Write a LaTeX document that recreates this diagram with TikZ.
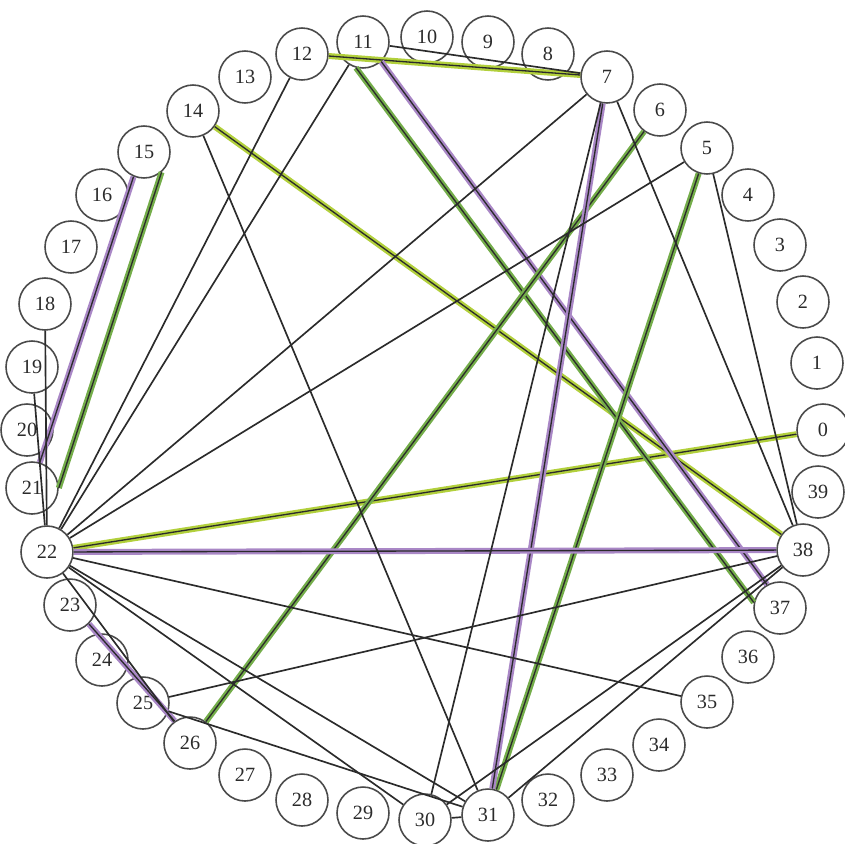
\documentclass[tikz,border=0pt]{standalone}
\usepackage{fontspec}
\setmainfont{Liberation Serif}
\usepackage{tikz}
\usetikzlibrary{arrows.meta, calc}
\definecolor{Ink}  {HTML}{2B2B2B}
\definecolor{Ring} {HTML}{4A4A4A}
\definecolor{Grn}  {HTML}{74AD4A}
\definecolor{YGrn} {HTML}{B2D03C}
\definecolor{Lilac}{HTML}{A987C6}
\tikzset{
  vtx/.style={
    circle, draw=Ring, line width=0.9pt,
    minimum size=1.04cm, inner sep=0pt,
    font=\fontsize{11.5}{13}\selectfont, text=Ink,
  },
  ln/.style={
    draw=Ink, line width=0.95pt,
  },
  % coloured band with a black line on top
  hl/.style={
    draw=Ink, line width=0.75pt,
    preaction={draw=#1, line width=3.4pt},
  },
}
\begin{document}
\begin{tikzpicture}[x=0.02cm,y=-0.02cm]
  \useasboundingbox (0,0) rectangle (845,843);
  % vertices, going round anticlockwise from the right
  \node[vtx] (v0)  at (823,430) {0};
  \node[vtx] (v1)  at (817,363) {1};
  \node[vtx] (v2)  at (803,302) {2};
  \node[vtx] (v3)  at (780,245) {3};
  \node[vtx] (v4)  at (748,195) {4};
  \node[vtx] (v5)  at (707,148) {5};
  \node[vtx] (v6)  at (660,110) {6};
  \node[vtx] (v7)  at (607,77)  {7};
  \node[vtx] (v8)  at (548,54)  {8};
  \node[vtx] (v9)  at (488,42)  {9};
  \node[vtx] (v10) at (427,37)  {10};
  \node[vtx] (v11) at (363,42)  {11};
  \node[vtx] (v12) at (302,54)  {12};
  \node[vtx] (v13) at (245,77)  {13};
  \node[vtx] (v14) at (193,111) {14};
  \node[vtx] (v15) at (144,152) {15};
  \node[vtx] (v16) at (102,195) {16};
  \node[vtx] (v17) at (71,247)  {17};
  \node[vtx] (v18) at (45,304)  {18};
  \node[vtx] (v19) at (32,367)  {19};
  \node[vtx] (v20) at (27,430)  {20};
  \node[vtx] (v21) at (32,488)  {21};
  \node[vtx] (v22) at (47,552)  {22};
  \node[vtx] (v23) at (70,605)  {23};
  \node[vtx] (v24) at (102,660) {24};
  \node[vtx] (v25) at (143,703) {25};
  \node[vtx] (v26) at (190,743) {26};
  \node[vtx] (v27) at (245,775) {27};
  \node[vtx] (v28) at (302,800) {28};
  \node[vtx] (v29) at (363,813) {29};
  \node[vtx] (v30) at (425,820) {30};
  \node[vtx] (v31) at (488,815) {31};
  \node[vtx] (v32) at (548,800) {32};
  \node[vtx] (v33) at (607,775) {33};
  \node[vtx] (v34) at (659,745) {34};
  \node[vtx] (v35) at (707,702) {35};
  \node[vtx] (v36) at (748,657) {36};
  \node[vtx] (v37) at (780,608) {37};
  \node[vtx] (v38) at (803,550) {38};
  \node[vtx] (v39) at (818,492) {39};
  % highlighted links
  \draw[hl=YGrn]  (v12) -- (v7);
  \draw[hl=YGrn]  (v22) -- (v0);
  \draw[hl=YGrn]  (v14) -- (v38);
  \draw[hl=Grn]   (v11.255) -- (v37.168);
  \draw[hl=Lilac] (v11.313) -- (v37.119);
  \draw[hl=Lilac] (v15.247) -- (v21.73);
  \draw[hl=Grn]   (v15.311) -- (v21.0);
  \draw[hl=Grn]   (v6) -- (v26);
  \draw[hl=Grn]   (v5) -- (v31);
  \draw[hl=Lilac] (v7) -- (v31);
  \draw[hl=Lilac] (v22) -- (v38);
  \draw[hl=Lilac] (v23.315) -- (v26.125);
  % plain links
  \draw[ln] (v11) -- (v7);
  \draw[ln] (v12) -- (v22);
  \draw[ln] (v11) -- (v22);
  \draw[ln] (v7) -- (v22);
  \draw[ln] (v5) -- (v22);
  \draw[ln] (v7) -- (v30);
  \draw[ln] (v7) -- (v38);
  \draw[ln] (v5) -- (v38);
  \draw[ln] (v18) -- (v22);
  \draw[ln] (v19) -- (v22);
  \draw[ln] (v14) -- (v31);
  \draw[ln] (v22) -- (v35);
  \draw[ln] (v22) -- (v31);
  \draw[ln] (v22) -- (v30);
  \draw[ln] (v22) -- (v26);
  \draw[ln] (v25) -- (v38);
  \draw[ln] (v25) -- (v31);
  \draw[ln] (v30) -- (v38);
  \draw[ln] (v31) -- (v38);
  \draw[ln] (v30) -- (v31);
\end{tikzpicture}
\end{document}
